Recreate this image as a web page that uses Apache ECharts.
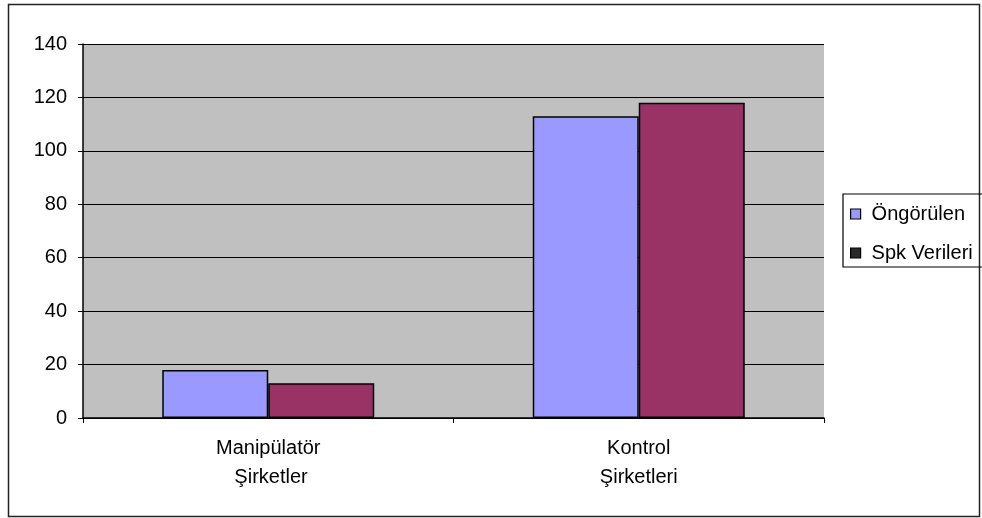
<!DOCTYPE html>
<html>
<head>
<meta charset="utf-8">
<script src="https://cdn.jsdelivr.net/npm/echarts@6/dist/echarts.min.js"></script>
<style>
  html, body { margin: 0; padding: 0; background: #fff; }
  #chart { width: 982px; height: 518px; }
</style>
</head>
<body>
<div id="chart"></div>
<script>
// Categories and series values
var categories = ['Manipülatör\n Şirketler', 'Kontrol\nŞirketleri'];
var seriesNames = ['Öngörülen', 'Spk Verileri'];
var ongorulen = [18, 113];
var spkVerileri = [13, 118];
var yTicks = [0, 20, 40, 60, 80, 100, 120, 140];

var font = 'Liberation Sans, Arial, sans-serif';
var chart = echarts.init(document.getElementById('chart'));

chart.setOption({
  backgroundColor: '#ffffff',
  animation: false,
  textStyle: { fontFamily: font },
  graphic: [{
    type: 'rect',
    shape: { x: 8.5, y: 4.5, width: 971, height: 512 },
    style: { fill: 'none', stroke: '#222', lineWidth: 1.5 },
    silent: true,
    z: -1
  }],
  legend: {
    orient: 'vertical',
    left: 843,
    top: 194,
    padding: [10, 12, 4, 7],
    itemWidth: 10,
    itemHeight: 10,
    itemGap: 19,
    borderColor: '#000',
    borderWidth: 1.2,
    textStyle: { fontFamily: font, fontSize: 20, color: '#000', padding: [0, 0, 0, 6] },
    data: [
      { name: seriesNames[0], icon: 'rect', itemStyle: { color: '#9999ff', borderColor: '#000', borderWidth: 1.2 } },
      { name: seriesNames[1], icon: 'rect', itemStyle: { color: '#2a2a2a', borderColor: '#000', borderWidth: 1.2 } }
    ]
  },
  grid: {
    left: 83,
    right: 158,
    top: 44,
    bottom: 100,
    show: true,
    backgroundColor: '#c0c0c0',
    borderWidth: 0
  },
  xAxis: {
    type: 'category',
    data: categories,
    axisLine: { lineStyle: { color: '#000', width: 1.5 } },
    axisTick: { show: true, length: 5, lineStyle: { color: '#000' } },
    axisLabel: {
      color: '#000',
      fontFamily: font,
      fontSize: 20,
      lineHeight: 29,
      margin: 16
    }
  },
  yAxis: {
    type: 'value',
    min: 0,
    max: 140,
    interval: 20,
    axisLine: { show: true, lineStyle: { color: '#000', width: 1.5 } },
    axisTick: { show: true, length: 5, lineStyle: { color: '#000' } },
    axisLabel: {
      color: '#000',
      fontFamily: font,
      fontSize: 20,
      margin: 16,
      formatter: function (v) { return yTicks.indexOf(v) >= 0 ? String(v) : ''; }
    },
    splitLine: { show: true, lineStyle: { color: '#000', width: 1.2 } }
  },
  series: [
    {
      name: seriesNames[0],
      type: 'bar',
      data: ongorulen,
      barWidth: 106,
      barGap: '0%',
      itemStyle: { color: '#9999ff', borderColor: '#000', borderWidth: 1.5 }
    },
    {
      name: seriesNames[1],
      type: 'bar',
      data: spkVerileri,
      barWidth: 106,
      barGap: '0%',
      itemStyle: { color: '#993366', borderColor: '#000', borderWidth: 1.5 }
    }
  ]
});
</script>
</body>
</html>
